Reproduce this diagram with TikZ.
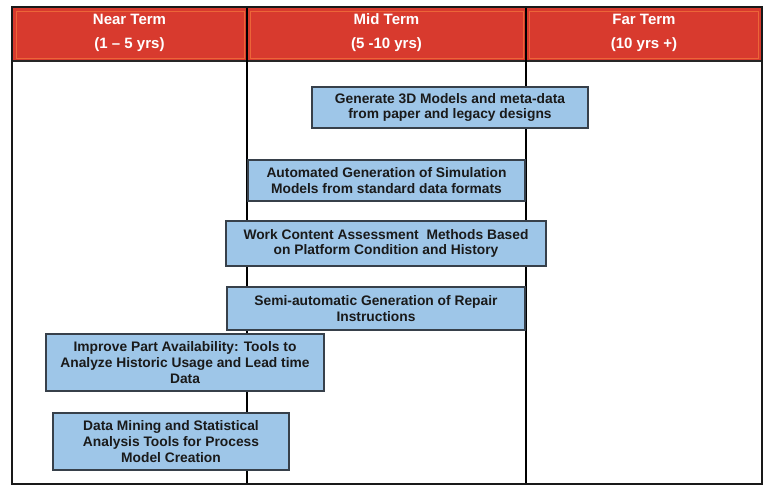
\documentclass[tikz,border=0pt]{standalone}
\usepackage{fontspec}
\setmainfont{Liberation Sans}
\definecolor{hdrred}{HTML}{D83A2E}
\definecolor{hdrline}{HTML}{EC6538}
\definecolor{boxfill}{HTML}{9EC6E8}
\definecolor{boxdraw}{HTML}{37404A}
\definecolor{txt}{HTML}{1A1A1A}
\tikzset{
  hdr/.style={text=white, font=\fontsize{15}{24}\selectfont\bfseries, align=center, inner sep=0pt},
  task/.style={draw=boxdraw, line width=1.4pt, fill=boxfill, text=txt, align=center,
    inner sep=0pt, font=\fontsize{13.8}{15.8}\selectfont\bfseries},
  divider/.style={line width=1.3pt, draw=black},
  inset/.style={draw=hdrline, line width=0.6pt},
}
\begin{document}
\begin{tikzpicture}[x=1pt,y=-1pt]
\useasboundingbox (0,0) rectangle (767,487);
\fill[white] (0,0) rectangle (767,487);
% header band
\fill[hdrred] (12,7) rectangle (762,61);
\draw[inset] (16,11) rectangle (244,58);
\draw[inset] (250,11) rectangle (523,58);
\draw[inset] (529,11) rectangle (758,58);
\draw[line width=1.5pt, draw=black!85] (12,61) -- (762,61);
% dividers
\coordinate (d1t) at (247,7);
\coordinate (d1b) at (247,484);
\coordinate (d2t) at (526,7);
\coordinate (d2b) at (526,484);
\draw[divider] (d1t) -- (d1b);
\draw[divider] (d2t) -- (d2b);
% outer frame
\draw[line width=2pt, draw=black!90] (12,7) rectangle (762,484);
% header texts
\node[hdr] (near) at (129.5,33) {Near Term\\(1 – 5 yrs)};
\node[hdr] (mid) at (386.5,33) {Mid Term\\(5 -10 yrs)};
\node[hdr] (far) at (644,33) {Far Term\\(10 yrs +)};
% tasks
\node[task, minimum width=276pt, minimum height=41pt] (t1) at (450,107.5)
  {Generate 3D Models and meta-data\\from paper and legacy designs};
\node[task, minimum width=277pt, minimum height=41pt] (t2) at (386.5,180.5)
  {Automated Generation of Simulation\\Models from standard data formats};
\node[task, minimum width=320pt, minimum height=45pt] (t3) at (386,243.5)
  {Work Content Assessment\ \ Methods Based\\on Platform Condition and History};
\node[task, minimum width=298pt, minimum height=43pt] (t4) at (376,308.5)
  {Semi-automatic Generation of Repair\\Instructions};
\node[task, minimum width=278pt, minimum height=57pt] (t5) at (185,362.5)
  {Improve Part Availability: Tools to\\Analyze Historic Usage and Lead time\\Data};
\node[task, minimum width=236pt, minimum height=57pt] (t6) at (171,441.5)
  {Data Mining and Statistical\\Analysis Tools for Process\\Model Creation};
\end{tikzpicture}
\end{document}
